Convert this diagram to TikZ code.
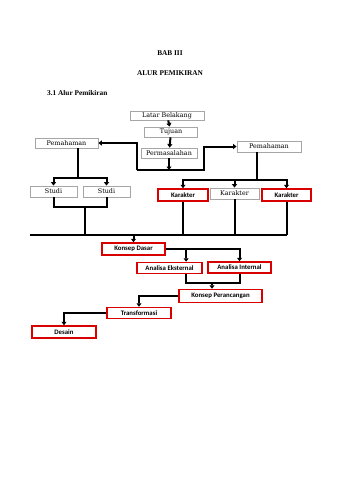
\documentclass[tikz,border=0pt]{standalone}
\usepackage{fontspec}
\setmainfont{Liberation Serif}
\newfontfamily\boxfont{DejaVu Serif}
\newfontfamily\redfont{Carlito}
\usetikzlibrary{arrows.meta,calc}
\begin{document}
\begin{tikzpicture}[x=1pt,y=-1pt,
    gbox/.style={draw=gray!70,line width=0.8pt,inner sep=0pt,font=\boxfont\fontsize{6.4}{7}\selectfont},
    rbox/.style={draw=red!85!black,line width=1.5pt,inner sep=0pt,font=\redfont\bfseries\fontsize{6.8}{7}\selectfont},
    ln/.style={line width=2pt},
    arr/.style={line width=2pt,-{Triangle[width=5pt,length=3.5pt]}}]
    \useasboundingbox[fill=white] (0,0) rectangle (340,480);
    % heading
    \node[font=\bfseries\fontsize{7.3}{8}\selectfont] (bab) at (170,53) {BAB III};
    \node[font=\bfseries\fontsize{7.3}{8}\selectfont] (judul) at (170,73) {ALUR PEMIKIRAN};
    \node[font=\bfseries\fontsize{7.3}{8}\selectfont,anchor=west,inner sep=0pt] (sub) at (47,93) {3.1 Alur Pemikiran};
    % top boxes
    \node[gbox,minimum width=74pt,minimum height=9pt] (latar) at (167,115.5) {Latar Belakang};
    \node[gbox,minimum width=53pt,minimum height=10pt] (tujuan) at (171,132) {Tujuan};
    \node[gbox,minimum width=56pt,minimum height=10pt] (masalah) at (169,153) {Permasalahan};
    \node[gbox,minimum width=63pt,minimum height=10pt] (pemL) at (66.5,143) {Pemahaman};
    \node[gbox,minimum width=64pt,minimum height=11pt] (pemR) at (269,146.5) {Pemahaman};
    \node[gbox,minimum width=47pt,minimum height=11pt] (studiA) at (53.5,191.5) {Studi};
    \node[gbox,minimum width=47pt,minimum height=11pt] (studiB) at (106.5,191.5) {Studi};
    \node[rbox,minimum width=50pt,minimum height=12pt] (karA) at (183,195) {Karakter};
    \node[gbox,minimum width=49pt,minimum height=11pt] (karB) at (234.5,193.5) {Karakter};
    \node[rbox,minimum width=49pt,minimum height=12pt] (karC) at (286.5,195) {Karakter};
    % red boxes
    \node[rbox,minimum width=63pt,minimum height=12pt] (dasar) at (133.5,249) {Konsep Dasar};
    \node[rbox,minimum width=65pt,minimum height=11pt] (eks) at (169.5,268) {Analisa Eksternal};
    \node[rbox,minimum width=63pt,minimum height=11pt] (int) at (239.5,267.5) {Analisa Internal};
    \node[rbox,minimum width=83pt,minimum height=13pt] (rancang) at (220.5,296) {Konsep Perancangan};
    \node[rbox,minimum width=64pt,minimum height=11pt] (trans) at (139,313) {Transformasi};
    \node[rbox,minimum width=64pt,minimum height=12pt] (desain) at (64,332) {Desain};
    % junctions
    \coordinate (jL) at (137,170);
    \coordinate (jR) at (204,170);
    \coordinate (pL) at (78,178);
    \coordinate (pR) at (257,180);
    \coordinate (sJ) at (85,207);
    \coordinate (bus) at (30,235);
    \coordinate (aJ) at (212,283);
    % connectors
    \draw[arr] (latar) -- (tujuan);
    \draw[arr] (tujuan) -- (masalah);
    \draw[arr] (masalah.south) -- (masalah.south |- jL);
    \draw[arr] (jL) |- (pemL.east);
    \draw[arr] (jL) -- (jR) |- (pemR.west);
    \draw[ln] (pemL.south -| pL) -- (pL);
    \draw[arr] (pL) -| (studiA.north);
    \draw[arr] (pL) -| (studiB.north);
    \draw[ln] (pemR.south -| pR) -- (pR);
    \draw[arr] (pR) -| (karA.north);
    \draw[arr] (pR) -| (karB.north);
    \draw[arr] (pR) -| (karC.north);
    \draw[ln] (studiA.south) |- (sJ) -| (studiB.south);
    \draw[ln] (sJ) -- (sJ |- bus);
    \draw[ln] (bus) -- (bus -| karC.south);
    \draw[ln] (karA.south) -- (karA.south |- bus);
    \draw[ln] (karB.south) -- (karB.south |- bus);
    \draw[ln] (karC.south) -- (karC.south |- bus);
    \draw[arr] (bus -| dasar.north) -- (dasar.north);
    \draw[arr] (dasar.east) -| ($(eks.north)!0.5!(eks.north east)$);
    \draw[arr] (dasar.east) -| (int.north);
    \draw[ln] ($(eks.south)!0.5!(eks.south east)$) |- (aJ) -| (int.south);
    \draw[arr] (aJ) -- (aJ |- rancang.north);
    \draw[arr] (rancang.west) -| (trans.north);
    \draw[arr] (trans.west) -| (desain.north);
\end{tikzpicture}
\end{document}
